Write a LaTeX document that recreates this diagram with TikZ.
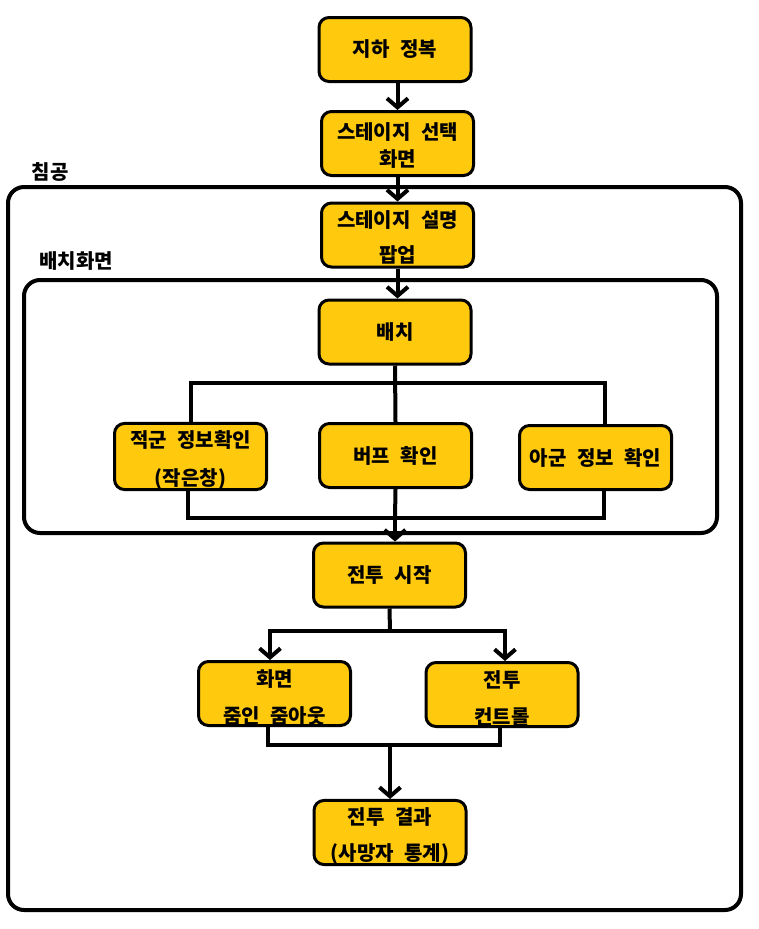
\documentclass[tikz,border=0pt]{standalone}
\usepackage{fontspec}
\setmainfont{Noto Sans CJK KR}[WordSpace=2.3]
\usetikzlibrary{arrows.meta}
\definecolor{boxyellow}{HTML}{FFC90E}
\newcommand{\firststrut}{\rule{0pt}{24pt}}
\newcommand{\smallstrut}{\rule{0pt}{21pt}}
\tikzset{
  stepbox/.style={draw=black, line width=3pt, fill=boxyellow, rounded corners=10pt,
    minimum width=152pt, minimum height=64pt, align=center, inner sep=0pt,
    font=\bfseries\fontsize{20}{37}\selectfont},
  framebox/.style={draw=black, line width=4pt, rounded corners=16pt},
  framelabel/.style={font=\bfseries\fontsize{20}{22}\selectfont, inner sep=0pt},
  conn/.style={draw=black, line width=4pt},
  arr/.style={conn, -{Straight Barb[length=9pt,width=21pt]}},
}
\begin{document}
\begin{tikzpicture}[x=1pt,y=-1pt]
\useasboundingbox (0,0) rectangle (758,929);
% frames
\draw[framebox] (8,187) rectangle (741,910);
\draw[framebox] (24,280) rectangle (717,533);
\node[framelabel] (lab1) at (50,172) {침공};
\node[framelabel] (lab2) at (76,261) {배치화면};
% boxes
\node[stepbox] (n1) at (395,49.5) {지하 정복};
\node[stepbox, font=\bfseries\fontsize{20}{27}\selectfont] (n2) at (397.5,143.5) {\smallstrut 스테이지 선택\\화면};
\node[stepbox, font=\bfseries\fontsize{20}{35}\selectfont] (n3) at (397.5,235) {\smallstrut 스테이지 설명\\팝업};
\node[stepbox] (n4) at (395,332) {배치};
\node[stepbox, font=\bfseries\fontsize{20}{38}\selectfont] (n5) at (190.5,456.5) {\firststrut 적군 정보확인\\(작은창)};
\node[stepbox] (n6) at (395.5,455.5) {버프 확인};
\node[stepbox] (n7) at (595.5,457.5) {아군 정보 확인};
\node[stepbox] (n8) at (389.5,575) {전투 시작};
\node[stepbox] (n9) at (274.5,693.5) {\firststrut 화면\\줌인 줌아웃};
\node[stepbox] (n10) at (502,694.5) {\firststrut 전투\\컨트롤};
\node[stepbox, font=\bfseries\fontsize{20}{36}\selectfont] (n11) at (390,832.5) {\firststrut 전투 결과\\(사망자 통계)};
% coordinates
\coordinate (s1) at (395,383);
\coordinate (j1) at (395,518);
\coordinate (s2) at (390,631);
\coordinate (j2) at (390,745);
% connectors
\draw[arr] (n2.north |- n1.south) -- (n2.north);
\draw[arr] (n2.south) -- (n3.north);
\draw[arr] (n3.south) -- (n3.south |- n4.north);
\draw[conn] (n5.north) |- (s1) -| ([xshift=9.5pt]n7.north);
\draw[conn] (n4.south) -- (n6.north);
\draw[conn] ([xshift=-2.5pt]n5.south) |- (j1) -| ([xshift=8.5pt]n7.south);
\draw[conn] (n6.south) -- (j1);
\draw[arr] (j1) -- (j1 |- n8.north);
\draw[conn] (n8.south) -- (s2);
\draw[arr] (s2) -| ([xshift=-4.5pt]n9.north);
\draw[arr] (s2) -| ([xshift=3pt]n10.north);
\draw[conn] ([xshift=-6.5pt]n9.south) |- (j2) -| ([xshift=-2pt]n10.south);
\draw[arr] (j2) -- (n11.north);
\end{tikzpicture}
\end{document}
